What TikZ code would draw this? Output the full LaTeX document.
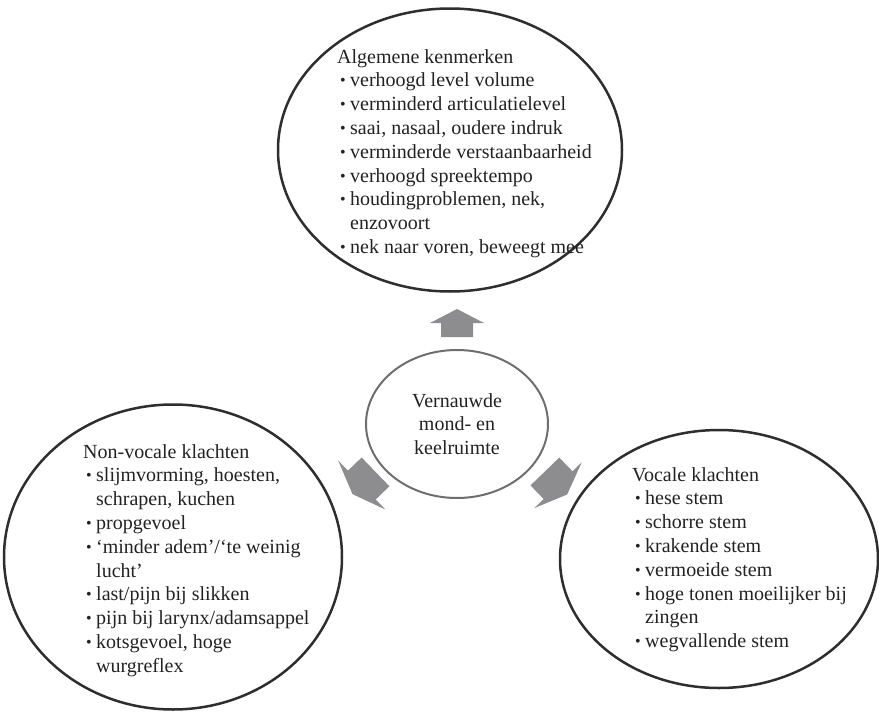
\documentclass[tikz,border=0pt]{standalone}
\usepackage{fontspec}
\setmainfont{Liberation Serif}
\usetikzlibrary{shapes.geometric}
\definecolor{ringdark}{HTML}{2E2E2E}
\definecolor{ringmid}{HTML}{6E6E6E}
\definecolor{arrowgray}{HTML}{8D8D8F}
\definecolor{txt}{HTML}{222222}
\newcommand{\bul}{\makebox[13pt][l]{\hspace{3pt}\raisebox{1pt}{\scalebox{0.8}{\textbullet}}}}
\newcommand{\ind}{\hspace*{13pt}}
\begin{document}
\begin{tikzpicture}[x=1pt,y=-1pt,
  outerring/.style={ellipse, draw=ringdark, line width=2.5pt, inner sep=0pt},
  innerring/.style={ellipse, draw=ringmid, line width=2pt, inner sep=0pt, align=center,
     text=txt, font=\fontsize{20}{23.5}\selectfont},
  listtext/.style={anchor=north west, inner sep=0pt, align=left, text=txt,
     font=\fontsize{20}{23.8}\selectfont},
  blockarr/.style={fill=arrowgray}]
\useasboundingbox (0,0) rectangle (879,712);

% outer ellipses
\node[outerring, minimum width=344, minimum height=283] (topell) at (450,150) {};
\node[outerring, minimum width=338, minimum height=305] (leftell) at (173,557) {};
\node[outerring, minimum width=318, minimum height=258] (rightell) at (719,559) {};

% centre
\node[innerring, minimum width=182, minimum height=148] (centre) at (457,424)
  {Vernauwde\\mond- en\\keelruimte};

% texts
\node[listtext] (toptext) at (337,49) {Algemene kenmerken\\
\bul verhoogd level volume\\
\bul verminderd articulatielevel\\
\bul saai, nasaal, oudere indruk\\
\bul verminderde verstaanbaarheid\\
\bul verhoogd spreektempo\\
\bul houdingproblemen, nek,\\
\ind enzovoort\\
\bul nek naar voren, beweegt mee};

\node[listtext] (lefttext) at (83,444) {Non-vocale klachten\\
\bul slijmvorming, hoesten,\\
\ind schrapen, kuchen\\
\bul propgevoel\\
\bul ‘minder adem’/‘te weinig\\
\ind lucht’\\
\bul last/pijn bij slikken\\
\bul pijn bij larynx/adamsappel\\
\bul kotsgevoel, hoge\\
\ind wurgreflex};

\node[listtext] (righttext) at (632,467) {Vocale klachten\\
\bul hese stem\\
\bul schorre stem\\
\bul krakende stem\\
\bul vermoeide stem\\
\bul hoge tonen moeilijker bij\\
\ind zingen\\
\bul wegvallende stem};

% block arrows (local: pointing along +x)
\begin{scope}[shift={(457,323)}, rotate=90]
  \fill[blockarr] (-14,-16) -- (0,-16) -- (0,-27) -- (14,0) -- (0,27) -- (0,16) -- (-14,16) -- cycle;
\end{scope}
\begin{scope}[shift={(364,483)}, rotate=224]
  \fill[blockarr] (-16,-20) -- (3,-20) -- (3,-34) -- (16,0) -- (3,34) -- (3,20) -- (-16,20) -- cycle;
\end{scope}
\begin{scope}[shift={(556,483)}, rotate=-46]
  \fill[blockarr] (-16,-20) -- (3,-20) -- (3,-33) -- (16,0) -- (3,33) -- (3,20) -- (-16,20) -- cycle;
\end{scope}
\end{tikzpicture}
\end{document}
